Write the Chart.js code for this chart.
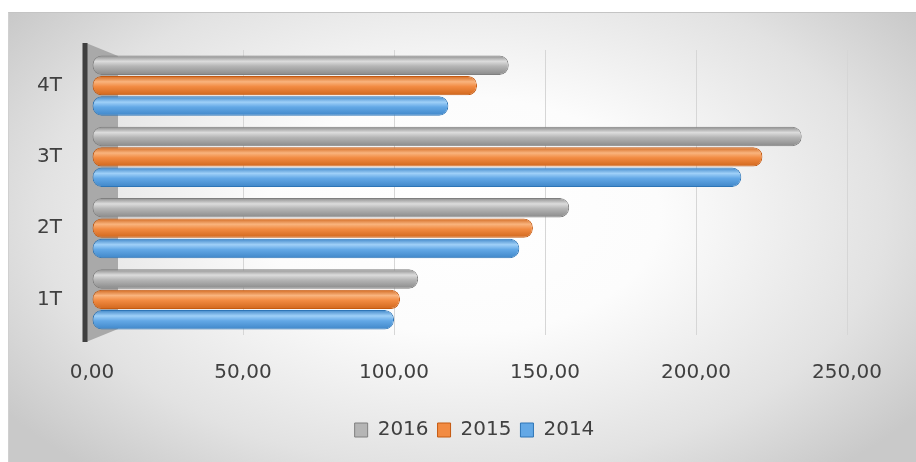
<!DOCTYPE html>
<html>
<head>
<meta charset="utf-8">
<script src="https://cdn.jsdelivr.net/npm/chart.js@4/dist/chart.umd.min.js"></script>
<style>
  html, body { margin: 0; padding: 0; background: #ffffff; }
  #wrap { position: relative; width: 916px; height: 462px; overflow: hidden; }
  #bg { position: absolute; left: 8px; top: 12px; width: 908px; height: 450px;
        background: radial-gradient(ellipse 62% 75% at 50% 45%, #ffffff 0%, #fcfcfc 35%, #e2e2e2 75%, #c9c9c9 100%);
        border-top: 1px solid #c4c4c4; border-left: 1px solid #d0d0d0; }
  #c { position: absolute; left: 0; top: 0; }
</style>
</head>
<body>
<div id="wrap">
  <div id="bg"></div>
  <canvas id="c" width="916" height="462"></canvas>
</div>
<script>
const categories = ['1T', '2T', '3T', '4T'];
const seriesNames = ['2016', '2015', '2014'];
const values2016 = [108, 158, 235, 138];
const values2015 = [102, 146, 222, 127.5];
const values2014 = [100, 141.5, 215, 118];
const xTicks = [0, 50, 100, 150, 200, 250];

const palette = {
  '2016': { base: '#b5b5b5', light: '#dcdcdc', dark: '#8a8a8a', border: '#7f7f7f' },
  '2015': { base: '#f28b42', light: '#f9b47e', dark: '#d0661c', border: '#c55a11' },
  '2014': { base: '#63a8e6', light: '#9fd0f8', dark: '#3f86c8', border: '#2e75b6' }
};
const seriesValues = [values2016, values2015, values2014];

const datasets = seriesNames.map((name, i) => ({
  label: name,
  data: seriesValues[i],
  backgroundColor: palette[name].base,
  borderColor: palette[name].border,
  borderWidth: 1,
  borderSkipped: false,
  borderRadius: 9,
  categoryPercentage: 0.86,
  barPercentage: 0.95
}));

const cylinderPlugin = {
  id: 'cylinder',
  afterLayout(chart) {
    const lg = chart.legend;
    if (lg) { lg.left += 51; lg.right += 51; }
  },
  beforeDatasetsDraw(chart) {
    const ctx = chart.ctx;
    const area = chart.chartArea;
    ctx.save();
    ctx.fillStyle = '#a9a9a9';
    ctx.beginPath();
    ctx.moveTo(area.left - 6, area.top - 7);
    ctx.lineTo(area.left + 26, area.top + 6);
    ctx.lineTo(area.left + 26, area.bottom - 6);
    ctx.lineTo(area.left - 6, area.bottom + 7);
    ctx.closePath();
    ctx.fill();
    ctx.strokeStyle = '#3f3f3f';
    ctx.lineWidth = 5;
    ctx.beginPath();
    ctx.moveTo(area.left - 7, area.top - 7);
    ctx.lineTo(area.left - 7, area.bottom + 7);
    ctx.stroke();
    ctx.restore();
  },
  beforeDatasetDraw(chart, args) {
    const meta = args.meta;
    const name = chart.data.datasets[args.index].label;
    const p = palette[name];
    const ctx = chart.ctx;
    meta.data.forEach(el => {
      const top = el.y - el.height / 2;
      const bot = el.y + el.height / 2;
      const g = ctx.createLinearGradient(0, top, 0, bot);
      g.addColorStop(0, p.dark);
      g.addColorStop(0.3, p.light);
      g.addColorStop(0.55, p.base);
      g.addColorStop(1, p.dark);
      el.options = Object.assign({}, el.options, { backgroundColor: g });
    });
  }
};

new Chart(document.getElementById('c'), {
  type: 'bar',
  data: { labels: categories, datasets },
  plugins: [cylinderPlugin],
  options: {
    indexAxis: 'y',
    responsive: false,
    animation: false,
    layout: { padding: { top: 50, right: 69, bottom: 12, left: 0 } },
    scales: {
      x: {
        min: 0, max: 250,
        afterBuildTicks(scale) { scale.ticks = xTicks.map(v => ({ value: v })); },
        afterFit(scale) { scale.height = 76; },
        grid: { color: '#d6d6d6', lineWidth: 1, drawTicks: false },
        border: { display: false },
        ticks: {
          padding: 26,
          color: '#404040',
          font: { family: 'DejaVu Sans', size: 20 },
          callback: v => v.toFixed(2).replace('.', ',')
        }
      },
      y: {
        reverse: true,
        afterFit(scale) { scale.width = 92; },
        grid: { display: false, drawTicks: false },
        border: { display: false },
        ticks: {
          padding: 30,
          color: '#404040',
          font: { family: 'DejaVu Sans', size: 20 }
        }
      }
    },
    plugins: {
      tooltip: { enabled: false },
      legend: {
        position: 'bottom',
        labels: {
          boxWidth: 13,
          boxHeight: 14,
          padding: 9,
          color: '#404040',
          font: { family: 'DejaVu Sans', size: 20 },
          generateLabels(chart) {
            return chart.data.datasets.map((d, i) => ({
              text: d.label,
              fillStyle: palette[d.label].base,
              strokeStyle: palette[d.label].border,
              lineWidth: 1,
              fontColor: '#404040',
              datasetIndex: i,
              hidden: false
            }));
          }
        }
      }
    }
  }
});
</script>
</body>
</html>
